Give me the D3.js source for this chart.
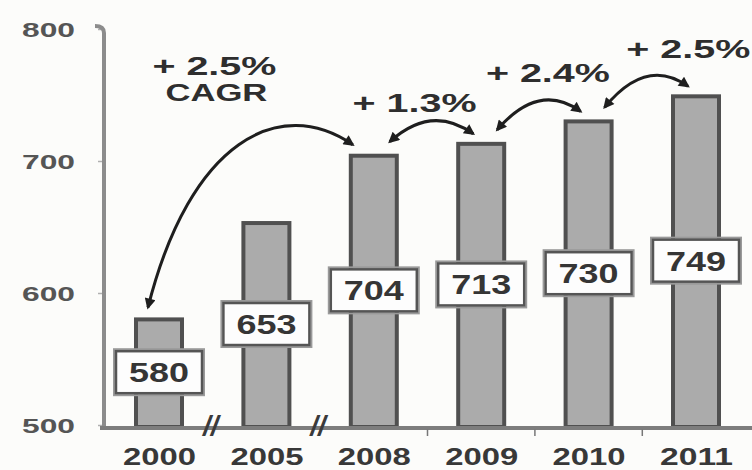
<!DOCTYPE html>
<html>
<head>
<meta charset="utf-8">
<script src="https://cdn.jsdelivr.net/npm/d3@7"></script>
<style>
  html, body { margin: 0; padding: 0; background: #fcfcfa; }
  svg { display: block; }
  text { font-family: "Liberation Sans", Arial, sans-serif; font-weight: bold; }
</style>
</head>
<body>
<svg id="chart" width="752" height="470"></svg>
<script>
// ---- data ----
const years = ["2000", "2005", "2008", "2009", "2010", "2011"];
const values = [580, 653, 704, 713, 730, 749];
const yTicks = [500, 600, 700, 800];
const growthFrom = ["2000", "2008", "2009", "2010"];
const growthTo = ["2008", "2009", "2010", "2011"];
const growthLabels = ["+ 2.5%", "+ 1.3%", "+ 2.4%", "+ 2.5%"];
const growthSub = ["CAGR", "", "", ""];
const breakAfter = ["2000", "2005"];   // axis breaks after these years

// ---- layout / style ----
const W = 752, H = 470;
const labelOffsets = [[-52, -81], [-13, -32], [13, -39], [46, -38]];
const svg = d3.select("#chart");
svg.append("rect").attr("width", W).attr("height", H).attr("fill", "#fcfcfa");

const x = d3.scalePoint().domain(years).range([159, 696]);
const y = d3.scaleLinear().domain([500, 800]).range([425, 29]);
const barW = 46;
const valOf = yr => values[years.indexOf(yr)];

// arrowhead marker
svg.append("defs").append("marker")
  .attr("id", "ah").attr("viewBox", "0 0 10 10")
  .attr("refX", 8).attr("refY", 5)
  .attr("markerWidth", 13).attr("markerHeight", 11)
  .attr("markerUnits", "userSpaceOnUse")
  .attr("orient", "auto-start-reverse")
  .append("path").attr("d", "M0,0 L10,5 L0,10 z").attr("fill", "#1e1e1e");

// y axis (ticks + labels from d3 axis)
const yAx = svg.append("g").attr("transform", "translate(104,0)")
  .call(d3.axisLeft(y).tickValues(yTicks).tickSize(6).tickPadding(23));
yAx.select(".domain").remove();
yAx.selectAll(".tick line").attr("stroke", "#b0b0b0").attr("stroke-width", 1.5);
yAx.selectAll(".tick text")
  .attr("fill", "#555").attr("font-size", 21)
  .attr("font-family", "'Liberation Sans', Arial, sans-serif")
  .attr("font-weight", "bold")
  .attr("dy", "0.36em")
  .attr("textLength", 53).attr("lengthAdjust", "spacingAndGlyphs");

// y axis line with hook at top
svg.append("path")
  .attr("d", `M95,${y(800) - 3} Q104,${y(800) - 3} 104,${y(800) + 4} L104,${y(500) + 3}`)
  .attr("fill", "none").attr("stroke", "#8c8c8c").attr("stroke-width", 4);

// bars
svg.append("g").selectAll("rect").data(years).join("rect")
  .attr("x", d => x(d) - barW / 2)
  .attr("y", d => y(valOf(d)))
  .attr("width", barW)
  .attr("height", d => y(500) - y(valOf(d)) + 2)
  .attr("fill", "#ababab")
  .attr("stroke", "#505050").attr("stroke-width", 4);

// x axis line
svg.append("line").attr("x1", 100).attr("x2", W).attr("y1", y(500) + 3).attr("y2", y(500) + 3)
  .attr("stroke", "#7d7d7d").attr("stroke-width", 4);

// x axis labels via d3 axis
const xAx = svg.append("g").attr("transform", `translate(0,${y(500) + 3})`)
  .call(d3.axisBottom(x).tickSize(0));
xAx.select(".domain").remove();
xAx.selectAll(".tick text")
  .attr("y", 37).attr("dy", 0)
  .attr("fill", "#383838").attr("font-size", 24)
  .attr("font-family", "'Liberation Sans', Arial, sans-serif")
  .attr("font-weight", "bold")
  .attr("textLength", 73).attr("lengthAdjust", "spacingAndGlyphs");

// small x ticks between consecutive yearly bars
const tickPairs = d3.pairs(years).filter(p => !breakAfter.includes(p[0]));
svg.append("g").selectAll("line").data(tickPairs).join("line")
  .attr("x1", p => (x(p[0]) + x(p[1])) / 2).attr("x2", p => (x(p[0]) + x(p[1])) / 2)
  .attr("y1", y(500) + 4).attr("y2", y(500) + 11)
  .attr("stroke", "#777").attr("stroke-width", 1.5);

// axis break marks
const breaks = breakAfter.map(b => [b, years[years.indexOf(b) + 1]]);
svg.append("g").selectAll("text").data(breaks).join("text")
  .attr("x", p => (x(p[0]) + x(p[1])) / 2 - 2)
  .attr("y", y(500) + 10)
  .attr("text-anchor", "middle")
  .attr("font-size", 28).attr("font-style", "italic")
  .attr("fill", "#3a3a3a")
  .text("//");

// value label boxes
const boxW = 86, boxH = 42;
const lbl = svg.append("g").selectAll("g").data(years).join("g")
  .attr("transform", d => `translate(${x(d)},${(y(valOf(d)) + y(500)) / 2})`);
lbl.append("rect")
  .attr("x", -boxW / 2 - 2).attr("y", -boxH / 2 - 2)
  .attr("width", boxW + 4).attr("height", boxH + 4)
  .attr("fill", "none").attr("stroke", "#9a9a9a").attr("stroke-width", 2);
lbl.append("rect")
  .attr("x", -boxW / 2).attr("y", -boxH / 2)
  .attr("width", boxW).attr("height", boxH)
  .attr("fill", "#fdfdfd").attr("stroke", "#555").attr("stroke-width", 2.5);
lbl.append("text")
  .attr("text-anchor", "middle").attr("y", 10)
  .attr("font-size", 28).attr("fill", "#353535")
  .attr("textLength", 60).attr("lengthAdjust", "spacingAndGlyphs")
  .text(d => valOf(d));

// growth arrows
const arrows = growthFrom.map((f, i) => {
  const t = growthTo[i];
  const x0 = x(f), x1 = x(t), y0 = y(valOf(f)), y1 = y(valOf(t));
  let d, topY = Math.min(y0, y1);
  if (i === 0) {
    const S = [x0 - 11, y0 - 12], E = [x1 - 21, y1 - 11];
    d = `M${S[0]},${S[1]} C${S[0] + 42},${S[1] - 167} ${E[0] - 73},${E[1] - 50} ${E[0]},${E[1]}`;
  } else {
    const S = [x0 + 16, y0 - 14], E = [x1 - 8, y1 - 10];
    const cx = (S[0] + E[0]) / 2, cy = Math.min(S[1], E[1]) - 30;
    d = `M${S[0]},${S[1]} Q${cx},${cy} ${E[0]},${E[1]}`;
  }
  return { d, mid: (x0 + x1) / 2, topY, i };
});
svg.append("g").selectAll("path").data(arrows).join("path")
  .attr("d", a => a.d)
  .attr("fill", "none").attr("stroke", "#1e1e1e").attr("stroke-width", 3)
  .attr("marker-start", "url(#ah)").attr("marker-end", "url(#ah)");

const ann = svg.append("g").selectAll("g").data(arrows).join("g")
  .attr("transform", a => `translate(${a.mid + labelOffsets[a.i][0]},${a.topY + labelOffsets[a.i][1]})`);
ann.append("text")
  .attr("text-anchor", "middle")
  .attr("font-size", 25).attr("fill", "#2e2e2e")
  .attr("textLength", 124).attr("lengthAdjust", "spacingAndGlyphs")
  .text(a => growthLabels[a.i]);
ann.filter(a => growthSub[a.i]).append("text")
  .attr("text-anchor", "middle").attr("x", 2).attr("y", 26)
  .attr("font-size", 23).attr("fill", "#2e2e2e")
  .attr("textLength", 102).attr("lengthAdjust", "spacingAndGlyphs")
  .text(a => growthSub[a.i]);
</script>
</body>
</html>
